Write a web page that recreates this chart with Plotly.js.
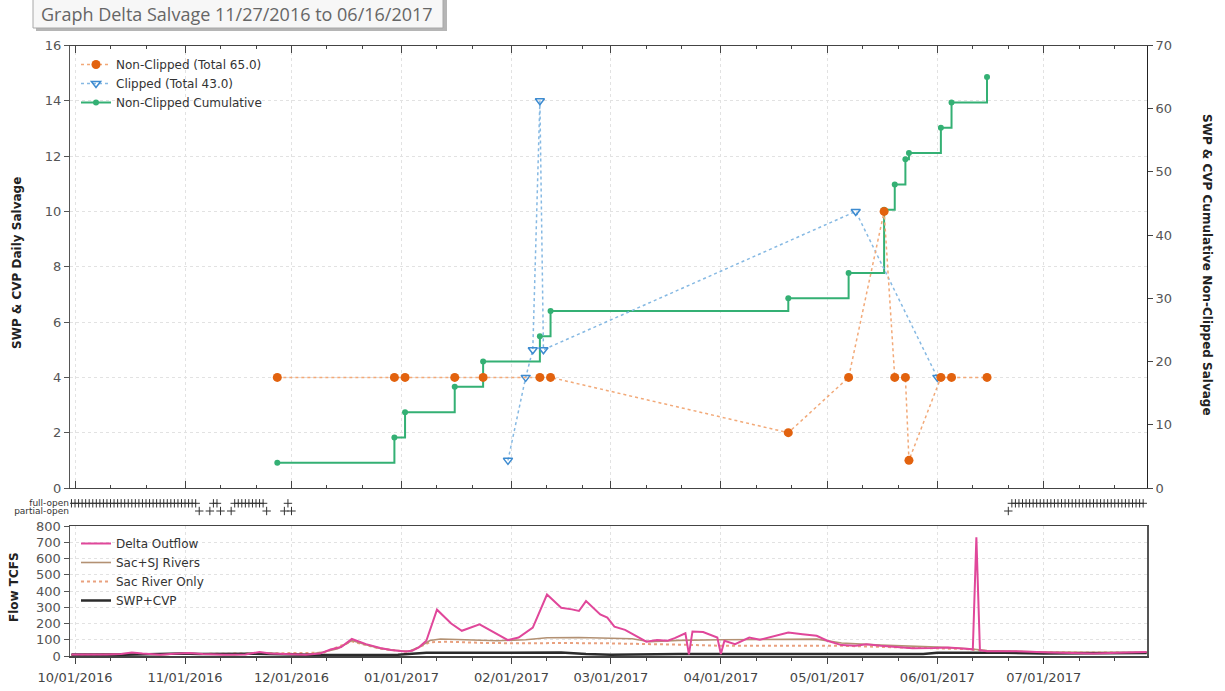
<!DOCTYPE html>
<html>
<head>
<meta charset="utf-8">
<script src="https://cdn.plot.ly/plotly-3.0.1.min.js"></script>
<style>
  html, body { margin: 0; padding: 0; background: #fff; }
  #chart { width: 1225px; height: 691px; }
</style>
</head>
<body>
<div id="chart"></div>
<script>
// ---- Daily salvage (left axis) ----
const nonClippedDates = ['2016-11-27','2016-12-30','2017-01-02','2017-01-16','2017-01-24','2017-02-09','2017-02-12',
  '2017-04-20','2017-05-07','2017-05-17','2017-05-20','2017-05-23','2017-05-24','2017-06-02','2017-06-05','2017-06-15'];
const nonClippedValues = [4,4,4,4,4,4,4,2,4,10,4,4,1,4,4,4];

const clippedDates = ['2017-01-31','2017-02-05','2017-02-07','2017-02-09','2017-02-10','2017-05-09','2017-06-01'];
const clippedValues = [1,4,5,14,5,10,4];

// ---- Cumulative non-clipped salvage (right axis) ----
const cumulativeValues = [4,8,12,16,20,24,28,30,34,44,48,52,53,57,61,65];

// ---- Gate position rows ----
const fullOpenDates = [
  '2016-09-30','2016-10-01','2016-10-02','2016-10-03','2016-10-04','2016-10-05','2016-10-06','2016-10-07','2016-10-08',
  '2016-10-09','2016-10-10','2016-10-11','2016-10-12','2016-10-13','2016-10-14','2016-10-15','2016-10-16','2016-10-17',
  '2016-10-18','2016-10-19','2016-10-20','2016-10-21','2016-10-22','2016-10-23','2016-10-24','2016-10-25','2016-10-26',
  '2016-10-27','2016-10-28','2016-10-29','2016-10-30','2016-10-31','2016-11-01','2016-11-02','2016-11-03','2016-11-04',
  '2016-11-09','2016-11-10',
  '2016-11-15','2016-11-16','2016-11-17','2016-11-18','2016-11-19','2016-11-20','2016-11-21','2016-11-22','2016-11-23',
  '2016-11-30',
  '2017-06-22','2017-06-23','2017-06-24','2017-06-25','2017-06-26','2017-06-27','2017-06-28','2017-06-29','2017-06-30',
  '2017-07-01','2017-07-02','2017-07-03','2017-07-04','2017-07-05','2017-07-06','2017-07-07','2017-07-08','2017-07-09',
  '2017-07-10','2017-07-11','2017-07-12','2017-07-13','2017-07-14','2017-07-15','2017-07-16','2017-07-17','2017-07-18',
  '2017-07-19','2017-07-20','2017-07-21','2017-07-22','2017-07-23','2017-07-24','2017-07-25','2017-07-26','2017-07-27',
  '2017-07-28','2017-07-29'];
const partialOpenDates = ['2016-11-05','2016-11-08','2016-11-11','2016-11-14','2016-11-24','2016-11-29','2016-12-01','2017-06-21'];
const gateRowLabels = ['partial-open','full-open'];

// ---- Flows (TCFS) ----
const deltaDates = ['2016-09-30','2016-10-05','2016-10-10','2016-10-14','2016-10-17','2016-10-20','2016-10-25','2016-10-29',
  '2016-11-02','2016-11-06','2016-11-12','2016-11-18','2016-11-22','2016-11-25','2016-11-30','2016-12-05','2016-12-09',
  '2016-12-12','2016-12-15','2016-12-18','2016-12-22','2016-12-26','2016-12-29','2017-01-02','2017-01-04','2017-01-06',
  '2017-01-08','2017-01-11','2017-01-15','2017-01-18','2017-01-23','2017-01-27','2017-01-31','2017-02-03','2017-02-07',
  '2017-02-11','2017-02-15','2017-02-18','2017-02-20','2017-02-22','2017-02-26','2017-02-28','2017-03-02','2017-03-05',
  '2017-03-09','2017-03-11','2017-03-14','2017-03-17','2017-03-19','2017-03-22','2017-03-23','2017-03-24','2017-03-27',
  '2017-03-31','2017-04-01','2017-04-02','2017-04-05','2017-04-09','2017-04-12','2017-04-16','2017-04-20','2017-04-24',
  '2017-04-28','2017-05-01','2017-05-05','2017-05-09','2017-05-12','2017-05-16','2017-05-21','2017-05-25','2017-05-31',
  '2017-06-04','2017-06-10','2017-06-11','2017-06-12','2017-06-13','2017-06-15','2017-06-23','2017-07-03','2017-07-08',
  '2017-07-15','2017-07-22','2017-07-30'];
const deltaOutflow = [10,8,9,12,22,15,8,14,18,12,8,10,25,15,10,8,15,40,55,105,73,49,37,27,32,55,94,285,200,155,195,145,98,
  114,175,378,297,287,277,338,256,236,181,161,114,88,98,94,110,140,10,151,148,114,12,94,73,114,100,124,145,134,124,94,67,63,
  73,63,53,47,49,53,43,40,730,35,29,29,22,20,15,20,25];

const riverDates = ['2016-09-30','2016-10-17','2016-10-25','2016-11-02','2016-11-15','2016-11-22','2016-12-05','2016-12-10',
  '2016-12-14','2016-12-18','2016-12-22','2016-12-26','2016-12-30','2017-01-03','2017-01-06','2017-01-09','2017-01-12',
  '2017-01-20','2017-01-28','2017-02-05','2017-02-11','2017-02-20','2017-02-28','2017-03-07','2017-03-12','2017-03-20',
  '2017-04-01','2017-04-15','2017-04-28','2017-05-05','2017-05-16','2017-06-01','2017-06-10','2017-06-15','2017-07-01',
  '2017-07-30'];
const sacSjRivers = [8,15,8,15,8,20,8,25,45,95,70,47,35,28,55,95,105,100,94,100,112,114,112,106,88,96,100,102,104,80,67,55,
  45,33,25,22];

const sacOnlyDates = ['2016-09-30','2016-10-17','2016-11-02','2016-11-22','2016-12-10','2016-12-18','2016-12-26','2017-01-03',
  '2017-01-09','2017-01-14','2017-01-25','2017-02-05','2017-02-15','2017-02-28','2017-03-10','2017-03-20','2017-04-01',
  '2017-04-20','2017-05-05','2017-05-16','2017-06-01','2017-06-10','2017-06-15','2017-07-01','2017-07-30'];
const sacRiverOnly = [6,12,12,15,20,90,45,25,85,88,80,78,80,78,75,70,63,63,63,56,50,42,30,23,20];

const pumpDates = ['2016-09-30','2016-10-15','2016-10-31','2016-11-05','2016-11-20','2016-12-01','2016-12-10','2016-12-31',
  '2017-01-08','2017-01-31','2017-02-15','2017-02-22','2017-03-01','2017-03-20','2017-04-15','2017-05-05','2017-05-28',
  '2017-06-01','2017-06-20','2017-07-01','2017-07-30'];
const swpCvp = [10,8,15,12,14,12,6,8,20,20,22,12,8,12,12,10,12,20,20,15,18];

// ---- Axis ticks ----
const monthTicks = ['2016-10-01','2016-11-01','2016-12-01','2017-01-01','2017-02-01','2017-03-01','2017-04-01',
  '2017-05-01','2017-06-01','2017-07-01'];
const minorTicks = ['2016-10-11','2016-10-21','2016-11-11','2016-11-21','2016-12-11','2016-12-21','2017-01-11','2017-01-21',
  '2017-02-11','2017-02-21','2017-03-11','2017-03-21','2017-04-11','2017-04-21','2017-05-11','2017-05-21','2017-06-11',
  '2017-06-21','2017-07-11','2017-07-21'];
const xRange = ['2016-09-29 14:00','2017-07-30 02:00'];

// ---- Page geometry (paper fractions of the 1225x691 canvas) ----
const W = 1225, H = 691;
const px = v => v / W;
const py = v => 1 - v / H;
const xDomain = [px(70), px(1147)];

const FONT = 'DejaVu Sans, sans-serif';
const GRID = '#e2e2e2';

const traces = [
  {
    name: 'Non-Clipped Cumulative', x: nonClippedDates, y: cumulativeValues, xaxis: 'x', yaxis: 'y',
    mode: 'lines+markers', line: {shape: 'hv', color: '#34b074', width: 2},
    marker: {color: '#34b074', size: 6}, legend: 'legend', legendrank: 3
  },
  {
    name: 'Clipped (Total 43.0)', x: clippedDates, y: clippedValues, xaxis: 'x', yaxis: 'y2',
    mode: 'lines+markers', line: {color: '#86b9e3', width: 1.5, dash: 'dot'},
    marker: {symbol: 'triangle-down-open', color: '#3d8bd0', size: 8, line: {width: 1.5}},
    legend: 'legend', legendrank: 2
  },
  {
    name: 'Non-Clipped (Total 65.0)', x: nonClippedDates, y: nonClippedValues, xaxis: 'x', yaxis: 'y2',
    mode: 'lines+markers', line: {color: '#f2a978', width: 1.5, dash: 'dot'},
    marker: {color: '#e2620e', size: 9}, legend: 'legend', legendrank: 1
  },
  {
    name: 'full-open', x: fullOpenDates, y: fullOpenDates.map(() => 1), xaxis: 'x2', yaxis: 'y3',
    mode: 'markers', marker: {symbol: 'cross-thin', size: 6, line: {width: 1, color: '#333'}}, showlegend: false
  },
  {
    name: 'partial-open', x: partialOpenDates, y: partialOpenDates.map(() => 0), xaxis: 'x2', yaxis: 'y3',
    mode: 'markers', marker: {symbol: 'cross-thin', size: 6, line: {width: 1, color: '#333'}}, showlegend: false
  },
  {
    name: 'Sac River Only', x: sacOnlyDates, y: sacRiverOnly, xaxis: 'x3', yaxis: 'y4',
    mode: 'lines', line: {color: '#e9a17f', width: 2, dash: 'dot'}, legend: 'legend2', legendrank: 3
  },
  {
    name: 'Sac+SJ Rivers', x: riverDates, y: sacSjRivers, xaxis: 'x3', yaxis: 'y4',
    mode: 'lines', line: {color: '#b39173', width: 1.6}, legend: 'legend2', legendrank: 2
  },
  {
    name: 'SWP+CVP', x: pumpDates, y: swpCvp, xaxis: 'x3', yaxis: 'y4',
    mode: 'lines', line: {color: '#2b2b2b', width: 2.5}, legend: 'legend2', legendrank: 4
  },
  {
    name: 'Delta Outflow', x: deltaDates, y: deltaOutflow, xaxis: 'x3', yaxis: 'y4',
    mode: 'lines', line: {color: '#e0479a', width: 2}, legend: 'legend2', legendrank: 1
  }
];

const tickFont = {family: FONT, size: 13, color: '#555'};
const titleFont = {family: FONT, size: 12, color: '#222', weight: 'bold'};

const layout = {
  width: W, height: H,
  margin: {l: 0, r: 0, t: 0, b: 0},
  paper_bgcolor: '#fff', plot_bgcolor: '#fff',
  font: {family: FONT, size: 13, color: '#555'},
  showlegend: true,
  xaxis: {
    type: 'date', domain: xDomain, anchor: 'y', range: xRange,
    tickmode: 'array', tickvals: monthTicks, showticklabels: false,
    ticks: 'inside', ticklen: 7, tickcolor: '#444',
    showline: true, linecolor: '#444', linewidth: 1, mirror: 'ticks',
    showgrid: true, gridcolor: GRID, griddash: 'dot', zeroline: false,
    minor: {tickmode: 'array', tickvals: minorTicks, ticks: 'inside', ticklen: 3, tickcolor: '#444', showgrid: false}
  },
  yaxis: {
    domain: [py(488), py(45.5)], anchor: 'x', side: 'right', range: [0, 70], dtick: 10,
    ticks: 'outside', ticklen: 5, tickcolor: '#444', tickfont: tickFont,
    showline: true, linecolor: '#222', showgrid: false, zeroline: false
  },
  yaxis2: {
    overlaying: 'y', side: 'left', anchor: 'x', range: [0, 16], dtick: 2,
    ticks: 'outside', ticklen: 5, tickcolor: '#555', tickfont: tickFont,
    showline: true, linecolor: '#555', showgrid: true, gridcolor: GRID, griddash: 'dot', zeroline: false
  },
  xaxis2: {type: 'date', domain: xDomain, anchor: 'y3', range: xRange, visible: false},
  yaxis3: {
    domain: [py(516), py(498)], anchor: 'x2', range: [-0.65, 1.69],
    tickmode: 'array', tickvals: [0, 1], ticktext: gateRowLabels,
    ticks: '', showline: false, showgrid: false, zeroline: false,
    tickfont: {family: FONT, size: 9, color: '#333'}, ticklabelstandoff: 0
  },
  xaxis3: {
    type: 'date', domain: xDomain, anchor: 'y4', range: xRange,
    tickmode: 'array', tickvals: monthTicks, tickformat: '%m/%d/%Y', tickfont: {family: FONT, size: 13, color: '#444'},
    ticks: 'outside', ticklen: 6, tickcolor: '#444', ticklabelstandoff: 3,
    showline: true, linecolor: '#444', linewidth: 1.5, mirror: true,
    showgrid: true, gridcolor: GRID, griddash: 'dot', zeroline: false,
    minor: {tickmode: 'array', tickvals: minorTicks, ticks: 'outside', ticklen: 3, tickcolor: '#444', showgrid: false}
  },
  yaxis4: {
    domain: [py(656), py(526)], anchor: 'x3', range: [0, 800], dtick: 100,
    ticks: 'outside', ticklen: 5, tickcolor: '#555', tickfont: tickFont,
    showline: true, linecolor: '#555', linewidth: 1.5, mirror: true,
    showgrid: true, gridcolor: GRID, griddash: 'dot', zeroline: false
  },
  legend: {
    x: px(76), y: py(50), xanchor: 'left', yanchor: 'top', bgcolor: 'rgba(0,0,0,0)',
    font: {family: FONT, size: 12, color: '#333'}, tracegroupgap: 0
  },
  legend2: {
    x: px(76), y: py(529), xanchor: 'left', yanchor: 'top', bgcolor: 'rgba(0,0,0,0)',
    font: {family: FONT, size: 12, color: '#333'}, tracegroupgap: 0
  },
  shapes: [
    {type: 'rect', xref: 'paper', yref: 'paper', x0: px(36), x1: px(447), y0: py(31), y1: py(-2),
     fillcolor: '#b5b5b5', line: {width: 0}, layer: 'above'},
    {type: 'rect', xref: 'paper', yref: 'paper', x0: px(33), x1: px(443), y0: py(28), y1: py(-4),
     fillcolor: '#f7f7f7', line: {color: '#a8a8a8', width: 1}, layer: 'above'}
  ],
  annotations: [
    {text: 'Graph Delta Salvage 11/27/2016 to 06/16/2017', xref: 'paper', yref: 'paper',
     x: px(39), y: py(14), xanchor: 'left', yanchor: 'middle', showarrow: false,
     font: {family: 'Open Sans, sans-serif', size: 18, color: '#666'}},
    {text: 'SWP & CVP Daily Salvage', xref: 'paper', yref: 'paper', x: px(17), y: py(263),
     textangle: -90, showarrow: false, xanchor: 'center', yanchor: 'middle', font: titleFont},
    {text: 'SWP & CVP Cumulative Non-Clipped Salvage', xref: 'paper', yref: 'paper', x: px(1207), y: py(265),
     textangle: 90, showarrow: false, xanchor: 'center', yanchor: 'middle', font: titleFont},
    {text: 'Flow TCFS', xref: 'paper', yref: 'paper', x: px(14), y: py(587),
     textangle: -90, showarrow: false, xanchor: 'center', yanchor: 'middle', font: titleFont}
  ]
};

Plotly.newPlot('chart', traces, layout, {displayModeBar: false, staticPlot: true});
</script>
</body>
</html>
